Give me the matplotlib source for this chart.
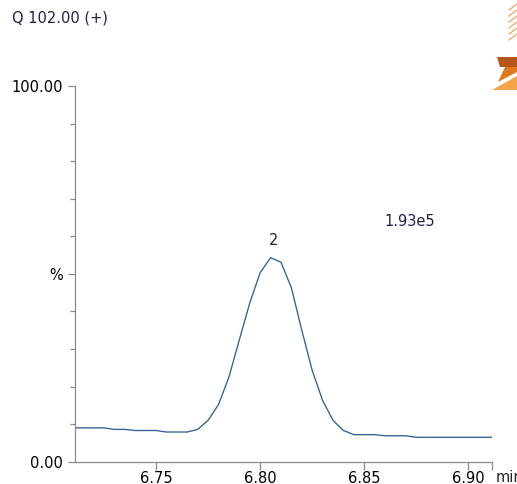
import matplotlib
matplotlib.use("Agg")
import matplotlib.pyplot as plt
from matplotlib.patches import Polygon
from matplotlib.ticker import MultipleLocator

# retention time (min) and relative intensity (%)
times = [6.710, 6.715, 6.720, 6.725, 6.730, 6.735, 6.740, 6.745, 6.750, 6.755,
         6.760, 6.765, 6.770, 6.775, 6.780, 6.785, 6.790, 6.795, 6.800, 6.805,
         6.810, 6.815, 6.820, 6.825, 6.830, 6.835, 6.840, 6.845, 6.850, 6.855,
         6.860, 6.865, 6.870, 6.875, 6.880, 6.885, 6.890, 6.895, 6.900, 6.905,
         6.910, 6.915]
intensity = [9.0, 9.0, 9.0, 9.0, 8.6, 8.6, 8.3, 8.3, 8.3, 7.9,
             7.9, 7.9, 8.6, 11.0, 15.2, 22.5, 32.4, 42.2, 50.3, 54.3,
             53.1, 46.3, 35.0, 24.3, 16.3, 11.0, 8.3, 7.2, 7.2, 7.2,
             6.9, 6.9, 6.9, 6.5, 6.5, 6.5, 6.5, 6.5, 6.5, 6.5,
             6.5, 6.5]

x_ticks = [6.75, 6.80, 6.85, 6.90]
y_ticks = [0, 50, 100]
y_labels = ["0.00", "%", "100.00"]
x_range = (6.7111, 6.9112)

TITLE = "Q 102.00 (+)"
TIC = "1.93e5"
PEAK_LABEL = "2"

NAVY = "#1c2248"
LINE = "#2f6194"
AXIS = "#8a8a8a"
FS = 10.5

plt.rcParams["font.family"] = "DejaVu Sans"
plt.rcParams["font.size"] = FS

fig = plt.figure(figsize=(5.17, 4.84), dpi=100)
ax = fig.add_axes([75 / 517, 1 - 461.7 / 484, (491.7 - 75) / 517, (461.7 - 86) / 484])

ax.plot(times, intensity, color=LINE, lw=0.95)
ax.set_xlim(*x_range)
ax.set_ylim(0, 100)

for s in ["top", "right"]:
    ax.spines[s].set_visible(False)
for s in ["left", "bottom"]:
    ax.spines[s].set_color(AXIS)
    ax.spines[s].set_linewidth(0.9)

ax.set_xticks(x_ticks)
ax.set_xticklabels([f"{t:.2f}" for t in x_ticks])
ax.set_xticks([x_range[1]], minor=True)
ax.set_yticks(y_ticks)
ax.set_yticklabels(y_labels)
ax.yaxis.set_minor_locator(MultipleLocator(10))

ax.tick_params(axis="x", which="major", length=5.5, width=0.9, color=AXIS, pad=1.5, labelsize=FS)
ax.tick_params(axis="x", which="minor", length=5.5, width=0.9, color=AXIS)
ax.tick_params(axis="y", which="major", length=5, width=0.9, color=AXIS, pad=4, labelsize=FS)
ax.tick_params(axis="y", which="minor", length=3.8, width=0.9, color=AXIS)

# peak label
i_max = intensity.index(max(intensity))
ax.annotate(PEAK_LABEL, xy=(times[i_max], intensity[i_max]), xytext=(2, 7),
            textcoords="offset points", ha="center", va="bottom",
            fontsize=FS, color="#222222")

ax.text(0.803, 0.64, TIC, transform=ax.transAxes, ha="center", va="center",
        fontsize=FS, color=NAVY)

fig.text(12 / 517, 1 - 18 / 484, TITLE, ha="left", va="center", fontsize=FS, color=NAVY)
fig.text(496 / 517, 1 - 477 / 484, "min", ha="left", va="center", fontsize=FS, color="#222222")

# partial logo at the top right corner
H = 484
def px(pts):
    return [(x / 517, 1 - y / H) for x, y in pts]

fig.patches.append(Polygon(px([(497, 57), (517, 57), (517, 67), (500, 67)]),
                           closed=True, transform=fig.transFigure,
                           facecolor="#b5561a", edgecolor="none"))
fig.patches.append(Polygon(px([(505, 67), (517, 67), (517, 72), (498, 82)]),
                           closed=True, transform=fig.transFigure,
                           facecolor="#e07a20", edgecolor="none"))
fig.patches.append(Polygon(px([(492, 90), (517, 76), (517, 90)]),
                           closed=True, transform=fig.transFigure,
                           facecolor="#f4a447", edgecolor="none"))
for k in range(6):
    y0 = 4 + k * 6
    fig.lines.append(plt.Line2D([509 / 517, 517 / 517], [1 - (y0 + 6) / H, 1 - y0 / H],
                                transform=fig.transFigure, color="#f0b070", lw=1.0))

fig.savefig("out.png", dpi=100)
